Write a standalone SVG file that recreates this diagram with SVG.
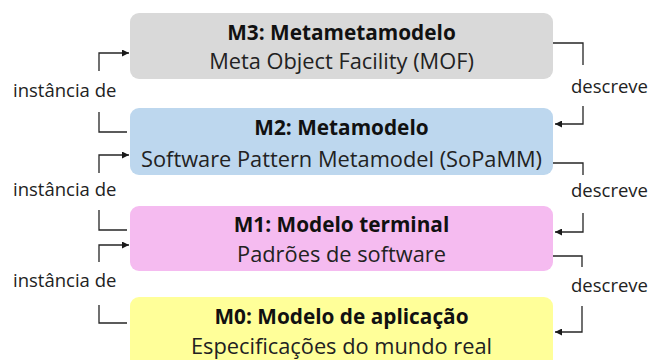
<svg xmlns="http://www.w3.org/2000/svg" width="651" height="360" viewBox="0 0 651 360">
<defs>
<marker id="ah" viewBox="0 0 10 10" refX="10" refY="5" markerWidth="7" markerHeight="7" markerUnits="userSpaceOnUse" orient="auto"><path d="M0,0 L10,5 L0,10 z" fill="#1a1a1a"/></marker>
<style>
.t{font-family:"Open Sans","Liberation Sans",sans-serif;font-size:20.8px;font-weight:bold;fill:#111;text-anchor:middle}
.s{font-family:"Open Sans","Liberation Sans",sans-serif;font-size:21.8px;fill:#222;text-anchor:middle}
.l{font-family:"Open Sans","Liberation Sans",sans-serif;font-size:18.5px;fill:#222}
.c{fill:none;stroke:#262626;stroke-width:1.3}
</style>
</defs>
<rect width="651" height="360" fill="#fff"/>
<g id="m3"><rect x="130" y="13" width="423" height="66" rx="9" fill="#d9d9d9"/><text class="t" x="341.5" y="40">M3: Metametamodelo</text><text class="s" x="341.5" y="69">Meta Object Facility (MOF)</text></g>
<g id="m2"><rect x="130" y="108" width="423" height="67" rx="9" fill="#bdd7ee"/><text class="t" x="341.5" y="135">M2: Metamodelo</text><text class="s" x="341.5" y="167">Software Pattern Metamodel (SoPaMM)</text></g>
<g id="m1"><rect x="130" y="206" width="423" height="65" rx="9" fill="#f5bbf0"/><text class="t" x="341.5" y="232">M1: Modelo terminal</text><text class="s" x="341.5" y="262">Padrões de software</text></g>
<g id="m0"><rect x="130" y="297" width="423" height="72" rx="9" fill="#ffff99"/><text class="t" x="341.5" y="324">M0: Modelo de aplicação</text><text class="s" x="341.5" y="354">Especificações do mundo real</text></g>
<g id="connectors">
<path class="c" d="M127,132 H99 V112"/>
<path class="c" d="M99,71 V53 H129" marker-end="url(#ah)"/>
<path class="c" d="M127,230 H99 V210"/>
<path class="c" d="M99,173 V155 H129" marker-end="url(#ah)"/>
<path class="c" d="M127,323 H99 V305"/>
<path class="c" d="M99,262 V245 H129" marker-end="url(#ah)"/>
<path class="c" d="M553,43 H583 V65"/>
<path class="c" d="M583,106 V124 H555" marker-end="url(#ah)"/>
<path class="c" d="M553,163 H583 V175"/>
<path class="c" d="M583,213 V232 H555" marker-end="url(#ah)"/>
<path class="c" d="M553,256 H582 V267"/>
<path class="c" d="M582,306 V332 H555" marker-end="url(#ah)"/>
</g>
<g id="labels">
<text class="l" x="13" y="97">instância de</text>
<text class="l" x="13" y="196">instância de</text>
<text class="l" x="13" y="287">instância de</text>
<text class="l" x="571" y="93">descreve</text>
<text class="l" x="571" y="197">descreve</text>
<text class="l" x="571" y="292">descreve</text>
</g>
</svg>
